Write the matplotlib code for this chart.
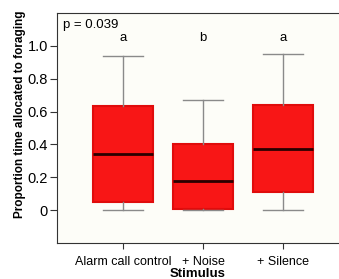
import matplotlib
matplotlib.use("Agg")
import matplotlib.pyplot as plt

plt.rcParams['font.family'] = ['Liberation Sans', 'DejaVu Sans']

groups = ["Alarm call control", "+ Noise", "+ Silence"]
whislo = [0.0, 0.0, 0.0]
q1 = [0.05, 0.005, 0.11]
med = [0.345, 0.18, 0.375]
q3 = [0.636, 0.405, 0.64]
whishi = [0.94, 0.67, 0.95]
letters = ["a", "b", "a"]
yticks = [0, 0.2, 0.4, 0.6, 0.8, 1.0]
ytick_labels = ["0", "0.2", "0.4", "0.6", "0.8", "1.0"]

stats = []
for i in range(len(groups)):
    stats.append({"label": groups[i], "whislo": whislo[i], "q1": q1[i],
                  "med": med[i], "q3": q3[i], "whishi": whishi[i], "fliers": []})

fig = plt.figure(figsize=(3.39, 2.79), dpi=100)
ax = fig.add_axes([0.168, 0.129, 0.832, 0.824])
ax.set_facecolor('#fdfdf8')

ax.bxp(stats, positions=[1, 2, 3], widths=0.75, patch_artist=True, showfliers=False,
       boxprops=dict(facecolor='#f81616', edgecolor='#e00c0c', linewidth=1.5),
       medianprops=dict(color='#2a0000', linewidth=2),
       whiskerprops=dict(color='#8a8a8a', linewidth=1),
       capprops=dict(color='#8a8a8a', linewidth=1), capwidths=0.5)

for i, l in enumerate(letters):
    ax.text(i + 1, 1.05, l, ha='center', va='center', fontsize=9.5)
ax.text(0.25, 1.13, "p = 0.039", ha='left', va='center', fontsize=9.5)

ax.set_xlim(0.175, 3.7)
ax.set_ylim(-0.2, 1.2)
ax.set_yticks(yticks)
ax.set_yticklabels(ytick_labels)
ax.set_xticks([1, 2, 3])
ax.set_xticklabels(groups)
ax.tick_params(axis='y', labelsize=10.5, length=5, pad=1.5, color='#333333', width=0.8)
ax.tick_params(axis='x', labelsize=9, length=4, pad=5, color='#333333', width=0.8)
ax.spines['right'].set_visible(False)
for s in ['left', 'bottom', 'top']:
    ax.spines[s].set_color('#333333')
    ax.spines[s].set_linewidth(0.8)

ax.set_xlabel("Stimulus", fontsize=9.5, fontweight='bold', labelpad=0.5)
ax.set_ylabel("Proportion time allocated to foraging", fontsize=8.5, fontweight='bold')
ax.yaxis.set_label_coords(-0.11, 0.56)

fig.savefig("out.png", dpi=100)
